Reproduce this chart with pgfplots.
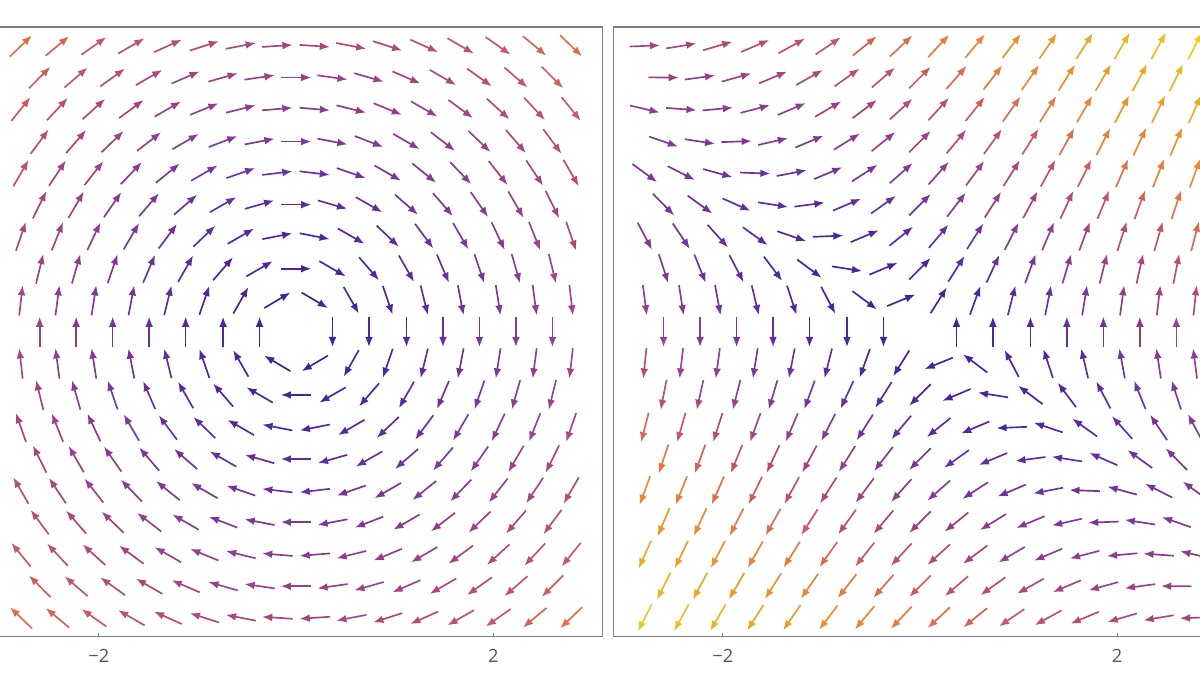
\documentclass[border=0pt]{standalone}
\usepackage{fontspec}
\setmainfont{Open Sans}
\usepackage{pgfplots}
\pgfplotsset{compat=1.18}
\usepackage{pgfplotstable}
\usetikzlibrary{arrows.meta}
\definecolor{framegray}{HTML}{7F7F7F}
\definecolor{labgray}{HTML}{555555}

% hex grid of the two vector plots: x y, left field (u,lv), right field (u,rv)
\pgfplotstableread[row sep=\\]{
x y u lv rv\\
-2.79 2.9 2.9 2.79 0.11\\ -2.42 2.9 2.9 2.42 0.48\\ -2.05 2.9 2.9 2.05 0.85\\ -1.67 2.9 2.9 1.67 1.23\\ -1.3 2.9 2.9 1.3 1.6\\ -0.93 2.9 2.9 0.93 1.97\\ -0.56 2.9 2.9 0.56 2.34\\ -0.19 2.9 2.9 0.19 2.71\\ 0.19 2.9 2.9 -0.19 3.09\\ 0.56 2.9 2.9 -0.56 3.46\\ 0.93 2.9 2.9 -0.93 3.83\\ 1.3 2.9 2.9 -1.3 4.2\\ 1.67 2.9 2.9 -1.67 4.57\\ 2.05 2.9 2.9 -2.05 4.95\\ 2.42 2.9 2.9 -2.42 5.32\\ 2.79 2.9 2.9 -2.79 5.69\\
-2.6 2.58 2.58 2.6 -0.02\\ -2.23 2.58 2.58 2.23 0.35\\ -1.86 2.58 2.58 1.86 0.72\\ -1.49 2.58 2.58 1.49 1.09\\ -1.12 2.58 2.58 1.12 1.46\\ -0.74 2.58 2.58 0.74 1.84\\ -0.37 2.58 2.58 0.37 2.21\\ 0 2.58 2.58 0 2.58\\ 0.37 2.58 2.58 -0.37 2.95\\ 0.74 2.58 2.58 -0.74 3.32\\ 1.12 2.58 2.58 -1.12 3.7\\ 1.49 2.58 2.58 -1.49 4.07\\ 1.86 2.58 2.58 -1.86 4.44\\ 2.23 2.58 2.58 -2.23 4.81\\ 2.6 2.58 2.58 -2.6 5.18\\
-2.79 2.26 2.26 2.79 -0.53\\ -2.42 2.26 2.26 2.42 -0.16\\ -2.05 2.26 2.26 2.05 0.21\\ -1.67 2.26 2.26 1.67 0.59\\ -1.3 2.26 2.26 1.3 0.96\\ -0.93 2.26 2.26 0.93 1.33\\ -0.56 2.26 2.26 0.56 1.7\\ -0.19 2.26 2.26 0.19 2.07\\ 0.19 2.26 2.26 -0.19 2.45\\ 0.56 2.26 2.26 -0.56 2.82\\ 0.93 2.26 2.26 -0.93 3.19\\ 1.3 2.26 2.26 -1.3 3.56\\ 1.67 2.26 2.26 -1.67 3.93\\ 2.05 2.26 2.26 -2.05 4.31\\ 2.42 2.26 2.26 -2.42 4.68\\ 2.79 2.26 2.26 -2.79 5.05\\
-2.6 1.93 1.93 2.6 -0.67\\ -2.23 1.93 1.93 2.23 -0.3\\ -1.86 1.93 1.93 1.86 0.07\\ -1.49 1.93 1.93 1.49 0.44\\ -1.12 1.93 1.93 1.12 0.81\\ -0.74 1.93 1.93 0.74 1.19\\ -0.37 1.93 1.93 0.37 1.56\\ 0 1.93 1.93 0 1.93\\ 0.37 1.93 1.93 -0.37 2.3\\ 0.74 1.93 1.93 -0.74 2.67\\ 1.12 1.93 1.93 -1.12 3.05\\ 1.49 1.93 1.93 -1.49 3.42\\ 1.86 1.93 1.93 -1.86 3.79\\ 2.23 1.93 1.93 -2.23 4.16\\ 2.6 1.93 1.93 -2.6 4.53\\
-2.79 1.61 1.61 2.79 -1.18\\ -2.42 1.61 1.61 2.42 -0.81\\ -2.05 1.61 1.61 2.05 -0.44\\ -1.67 1.61 1.61 1.67 -0.06\\ -1.3 1.61 1.61 1.3 0.31\\ -0.93 1.61 1.61 0.93 0.68\\ -0.56 1.61 1.61 0.56 1.05\\ -0.19 1.61 1.61 0.19 1.42\\ 0.19 1.61 1.61 -0.19 1.8\\ 0.56 1.61 1.61 -0.56 2.17\\ 0.93 1.61 1.61 -0.93 2.54\\ 1.3 1.61 1.61 -1.3 2.91\\ 1.67 1.61 1.61 -1.67 3.28\\ 2.05 1.61 1.61 -2.05 3.66\\ 2.42 1.61 1.61 -2.42 4.03\\ 2.79 1.61 1.61 -2.79 4.4\\
-2.6 1.29 1.29 2.6 -1.31\\ -2.23 1.29 1.29 2.23 -0.94\\ -1.86 1.29 1.29 1.86 -0.57\\ -1.49 1.29 1.29 1.49 -0.2\\ -1.12 1.29 1.29 1.12 0.17\\ -0.74 1.29 1.29 0.74 0.55\\ -0.37 1.29 1.29 0.37 0.92\\ 0 1.29 1.29 0 1.29\\ 0.37 1.29 1.29 -0.37 1.66\\ 0.74 1.29 1.29 -0.74 2.03\\ 1.12 1.29 1.29 -1.12 2.41\\ 1.49 1.29 1.29 -1.49 2.78\\ 1.86 1.29 1.29 -1.86 3.15\\ 2.23 1.29 1.29 -2.23 3.52\\ 2.6 1.29 1.29 -2.6 3.89\\
-2.79 0.97 0.97 2.79 -1.82\\ -2.42 0.97 0.97 2.42 -1.45\\ -2.05 0.97 0.97 2.05 -1.08\\ -1.67 0.97 0.97 1.67 -0.7\\ -1.3 0.97 0.97 1.3 -0.33\\ -0.93 0.97 0.97 0.93 0.04\\ -0.56 0.97 0.97 0.56 0.41\\ -0.19 0.97 0.97 0.19 0.78\\ 0.19 0.97 0.97 -0.19 1.16\\ 0.56 0.97 0.97 -0.56 1.53\\ 0.93 0.97 0.97 -0.93 1.9\\ 1.3 0.97 0.97 -1.3 2.27\\ 1.67 0.97 0.97 -1.67 2.64\\ 2.05 0.97 0.97 -2.05 3.02\\ 2.42 0.97 0.97 -2.42 3.39\\ 2.79 0.97 0.97 -2.79 3.76\\
-2.6 0.64 0.64 2.6 -1.96\\ -2.23 0.64 0.64 2.23 -1.59\\ -1.86 0.64 0.64 1.86 -1.22\\ -1.49 0.64 0.64 1.49 -0.85\\ -1.12 0.64 0.64 1.12 -0.48\\ -0.74 0.64 0.64 0.74 -0.1\\ -0.37 0.64 0.64 0.37 0.27\\ 0 0.64 0.64 0 0.64\\ 0.37 0.64 0.64 -0.37 1.01\\ 0.74 0.64 0.64 -0.74 1.38\\ 1.12 0.64 0.64 -1.12 1.76\\ 1.49 0.64 0.64 -1.49 2.13\\ 1.86 0.64 0.64 -1.86 2.5\\ 2.23 0.64 0.64 -2.23 2.87\\ 2.6 0.64 0.64 -2.6 3.24\\
-2.79 0.32 0.32 2.79 -2.47\\ -2.42 0.32 0.32 2.42 -2.1\\ -2.05 0.32 0.32 2.05 -1.73\\ -1.67 0.32 0.32 1.67 -1.35\\ -1.3 0.32 0.32 1.3 -0.98\\ -0.93 0.32 0.32 0.93 -0.61\\ -0.56 0.32 0.32 0.56 -0.24\\ -0.19 0.32 0.32 0.19 0.13\\ 0.19 0.32 0.32 -0.19 0.51\\ 0.56 0.32 0.32 -0.56 0.88\\ 0.93 0.32 0.32 -0.93 1.25\\ 1.3 0.32 0.32 -1.3 1.62\\ 1.67 0.32 0.32 -1.67 1.99\\ 2.05 0.32 0.32 -2.05 2.37\\ 2.42 0.32 0.32 -2.42 2.74\\ 2.79 0.32 0.32 -2.79 3.11\\
-2.6 0 0 2.6 -2.6\\ -2.23 0 0 2.23 -2.23\\ -1.86 0 0 1.86 -1.86\\ -1.49 0 0 1.49 -1.49\\ -1.12 0 0 1.12 -1.12\\ -0.74 0 0 0.74 -0.74\\ -0.37 0 0 0.37 -0.37\\ 0.37 0 0 -0.37 0.37\\ 0.74 0 0 -0.74 0.74\\ 1.12 0 0 -1.12 1.12\\ 1.49 0 0 -1.49 1.49\\ 1.86 0 0 -1.86 1.86\\ 2.23 0 0 -2.23 2.23\\ 2.6 0 0 -2.6 2.6\\
-2.79 -0.32 -0.32 2.79 -3.11\\ -2.42 -0.32 -0.32 2.42 -2.74\\ -2.05 -0.32 -0.32 2.05 -2.37\\ -1.67 -0.32 -0.32 1.67 -1.99\\ -1.3 -0.32 -0.32 1.3 -1.62\\ -0.93 -0.32 -0.32 0.93 -1.25\\ -0.56 -0.32 -0.32 0.56 -0.88\\ -0.19 -0.32 -0.32 0.19 -0.51\\ 0.19 -0.32 -0.32 -0.19 -0.13\\ 0.56 -0.32 -0.32 -0.56 0.24\\ 0.93 -0.32 -0.32 -0.93 0.61\\ 1.3 -0.32 -0.32 -1.3 0.98\\ 1.67 -0.32 -0.32 -1.67 1.35\\ 2.05 -0.32 -0.32 -2.05 1.73\\ 2.42 -0.32 -0.32 -2.42 2.1\\ 2.79 -0.32 -0.32 -2.79 2.47\\
-2.6 -0.64 -0.64 2.6 -3.24\\ -2.23 -0.64 -0.64 2.23 -2.87\\ -1.86 -0.64 -0.64 1.86 -2.5\\ -1.49 -0.64 -0.64 1.49 -2.13\\ -1.12 -0.64 -0.64 1.12 -1.76\\ -0.74 -0.64 -0.64 0.74 -1.38\\ -0.37 -0.64 -0.64 0.37 -1.01\\ 0 -0.64 -0.64 0 -0.64\\ 0.37 -0.64 -0.64 -0.37 -0.27\\ 0.74 -0.64 -0.64 -0.74 0.1\\ 1.12 -0.64 -0.64 -1.12 0.48\\ 1.49 -0.64 -0.64 -1.49 0.85\\ 1.86 -0.64 -0.64 -1.86 1.22\\ 2.23 -0.64 -0.64 -2.23 1.59\\ 2.6 -0.64 -0.64 -2.6 1.96\\
-2.79 -0.97 -0.97 2.79 -3.76\\ -2.42 -0.97 -0.97 2.42 -3.39\\ -2.05 -0.97 -0.97 2.05 -3.02\\ -1.67 -0.97 -0.97 1.67 -2.64\\ -1.3 -0.97 -0.97 1.3 -2.27\\ -0.93 -0.97 -0.97 0.93 -1.9\\ -0.56 -0.97 -0.97 0.56 -1.53\\ -0.19 -0.97 -0.97 0.19 -1.16\\ 0.19 -0.97 -0.97 -0.19 -0.78\\ 0.56 -0.97 -0.97 -0.56 -0.41\\ 0.93 -0.97 -0.97 -0.93 -0.04\\ 1.3 -0.97 -0.97 -1.3 0.33\\ 1.67 -0.97 -0.97 -1.67 0.7\\ 2.05 -0.97 -0.97 -2.05 1.08\\ 2.42 -0.97 -0.97 -2.42 1.45\\ 2.79 -0.97 -0.97 -2.79 1.82\\
-2.6 -1.29 -1.29 2.6 -3.89\\ -2.23 -1.29 -1.29 2.23 -3.52\\ -1.86 -1.29 -1.29 1.86 -3.15\\ -1.49 -1.29 -1.29 1.49 -2.78\\ -1.12 -1.29 -1.29 1.12 -2.41\\ -0.74 -1.29 -1.29 0.74 -2.03\\ -0.37 -1.29 -1.29 0.37 -1.66\\ 0 -1.29 -1.29 0 -1.29\\ 0.37 -1.29 -1.29 -0.37 -0.92\\ 0.74 -1.29 -1.29 -0.74 -0.55\\ 1.12 -1.29 -1.29 -1.12 -0.17\\ 1.49 -1.29 -1.29 -1.49 0.2\\ 1.86 -1.29 -1.29 -1.86 0.57\\ 2.23 -1.29 -1.29 -2.23 0.94\\ 2.6 -1.29 -1.29 -2.6 1.31\\
-2.79 -1.61 -1.61 2.79 -4.4\\ -2.42 -1.61 -1.61 2.42 -4.03\\ -2.05 -1.61 -1.61 2.05 -3.66\\ -1.67 -1.61 -1.61 1.67 -3.28\\ -1.3 -1.61 -1.61 1.3 -2.91\\ -0.93 -1.61 -1.61 0.93 -2.54\\ -0.56 -1.61 -1.61 0.56 -2.17\\ -0.19 -1.61 -1.61 0.19 -1.8\\ 0.19 -1.61 -1.61 -0.19 -1.42\\ 0.56 -1.61 -1.61 -0.56 -1.05\\ 0.93 -1.61 -1.61 -0.93 -0.68\\ 1.3 -1.61 -1.61 -1.3 -0.31\\ 1.67 -1.61 -1.61 -1.67 0.06\\ 2.05 -1.61 -1.61 -2.05 0.44\\ 2.42 -1.61 -1.61 -2.42 0.81\\ 2.79 -1.61 -1.61 -2.79 1.18\\
-2.6 -1.93 -1.93 2.6 -4.53\\ -2.23 -1.93 -1.93 2.23 -4.16\\ -1.86 -1.93 -1.93 1.86 -3.79\\ -1.49 -1.93 -1.93 1.49 -3.42\\ -1.12 -1.93 -1.93 1.12 -3.05\\ -0.74 -1.93 -1.93 0.74 -2.67\\ -0.37 -1.93 -1.93 0.37 -2.3\\ 0 -1.93 -1.93 0 -1.93\\ 0.37 -1.93 -1.93 -0.37 -1.56\\ 0.74 -1.93 -1.93 -0.74 -1.19\\ 1.12 -1.93 -1.93 -1.12 -0.81\\ 1.49 -1.93 -1.93 -1.49 -0.44\\ 1.86 -1.93 -1.93 -1.86 -0.07\\ 2.23 -1.93 -1.93 -2.23 0.3\\ 2.6 -1.93 -1.93 -2.6 0.67\\
-2.79 -2.26 -2.26 2.79 -5.05\\ -2.42 -2.26 -2.26 2.42 -4.68\\ -2.05 -2.26 -2.26 2.05 -4.31\\ -1.67 -2.26 -2.26 1.67 -3.93\\ -1.3 -2.26 -2.26 1.3 -3.56\\ -0.93 -2.26 -2.26 0.93 -3.19\\ -0.56 -2.26 -2.26 0.56 -2.82\\ -0.19 -2.26 -2.26 0.19 -2.45\\ 0.19 -2.26 -2.26 -0.19 -2.07\\ 0.56 -2.26 -2.26 -0.56 -1.7\\ 0.93 -2.26 -2.26 -0.93 -1.33\\ 1.3 -2.26 -2.26 -1.3 -0.96\\ 1.67 -2.26 -2.26 -1.67 -0.59\\ 2.05 -2.26 -2.26 -2.05 -0.21\\ 2.42 -2.26 -2.26 -2.42 0.16\\ 2.79 -2.26 -2.26 -2.79 0.53\\
-2.6 -2.58 -2.58 2.6 -5.18\\ -2.23 -2.58 -2.58 2.23 -4.81\\ -1.86 -2.58 -2.58 1.86 -4.44\\ -1.49 -2.58 -2.58 1.49 -4.07\\ -1.12 -2.58 -2.58 1.12 -3.7\\ -0.74 -2.58 -2.58 0.74 -3.32\\ -0.37 -2.58 -2.58 0.37 -2.95\\ 0 -2.58 -2.58 0 -2.58\\ 0.37 -2.58 -2.58 -0.37 -2.21\\ 0.74 -2.58 -2.58 -0.74 -1.84\\ 1.12 -2.58 -2.58 -1.12 -1.46\\ 1.49 -2.58 -2.58 -1.49 -1.09\\ 1.86 -2.58 -2.58 -1.86 -0.72\\ 2.23 -2.58 -2.58 -2.23 -0.35\\ 2.6 -2.58 -2.58 -2.6 0.02\\
-2.79 -2.9 -2.9 2.79 -5.69\\ -2.42 -2.9 -2.9 2.42 -5.32\\ -2.05 -2.9 -2.9 2.05 -4.95\\ -1.67 -2.9 -2.9 1.67 -4.57\\ -1.3 -2.9 -2.9 1.3 -4.2\\ -0.93 -2.9 -2.9 0.93 -3.83\\ -0.56 -2.9 -2.9 0.56 -3.46\\ -0.19 -2.9 -2.9 0.19 -3.09\\ 0.19 -2.9 -2.9 -0.19 -2.71\\ 0.56 -2.9 -2.9 -0.56 -2.34\\ 0.93 -2.9 -2.9 -0.93 -1.97\\ 1.3 -2.9 -2.9 -1.3 -1.6\\ 1.67 -2.9 -2.9 -1.67 -1.23\\ 2.05 -2.9 -2.9 -2.05 -0.85\\ 2.42 -2.9 -2.9 -2.42 -0.48\\ 2.79 -2.9 -2.9 -2.79 -0.11\\
}\vf

% magnitudes, used to normalise and colour the arrows
\def\Lm{sqrt((\thisrow{u})*(\thisrow{u})+(\thisrow{lv})*(\thisrow{lv}))}
\def\Rm{sqrt((\thisrow{u})*(\thisrow{u})+(\thisrow{rv})*(\thisrow{rv}))}

\tikzset{vfarrow/.style={line width=0.95pt, -{Latex[length=5.8pt,width=4.4pt]}}}

\pgfplotsset{
  vfpanel/.style={
    scale only axis, width=12.266cm, height=12.194cm,
    xmin=-3.11, xmax=3.11, ymin=-3.092, ymax=3.092,
    anchor=south west, clip=false,
    axis line style={draw=framegray, line width=0.8pt},
    xtick={-2,2}, xticklabels={−2,2}, ytick=\empty,
    tick align=inside, xtick pos=left, major tick length=2.2pt,
    tick style={draw=framegray, line width=0.6pt},
    xticklabel style={font=\fontsize{10.4}{12}\selectfont, text=labgray, yshift=-3.5pt},
    colormap={vfmap}{rgb255(0cm)=(60,32,152) rgb255(10cm)=(80,38,160) rgb255(20cm)=(128,55,155) rgb255(29cm)=(168,68,130) rgb255(36cm)=(205,88,95) rgb255(41cm)=(228,118,65) rgb255(50cm)=(238,150,40) rgb255(64cm)=(232,205,30)},
    point meta min=0, point meta max=6.4,
  },
}

\begin{document}
\begin{tikzpicture}
\begin{axis}[vfpanel, at={(-0.212cm,0.766cm)}]
\addplot[point meta=explicit,
  quiver={u={0.31*(\thisrow{u})/\Lm}, v={0.31*(\thisrow{lv})/\Lm},
          colored=mapped color, every arrow/.append style={vfarrow}}]
  table[x expr={\thisrow{x}-0.155*(\thisrow{u})/\Lm},
        y expr={\thisrow{y}-0.155*(\thisrow{lv})/\Lm},
        meta expr={\Lm}] {\vf};
\end{axis}
\begin{axis}[vfpanel, at={(12.266cm,0.766cm)}]
\addplot[point meta=explicit,
  quiver={u={0.31*(\thisrow{u})/\Rm}, v={0.31*(\thisrow{rv})/\Rm},
          colored=mapped color, every arrow/.append style={vfarrow}}]
  table[x expr={\thisrow{x}-0.155*(\thisrow{u})/\Rm},
        y expr={\thisrow{y}-0.155*(\thisrow{rv})/\Rm},
        meta expr={\Rm}] {\vf};
\end{axis}
\pgfresetboundingbox
\path[use as bounding box] (0,0) rectangle (24cm,13.5cm);
\end{tikzpicture}
\end{document}
